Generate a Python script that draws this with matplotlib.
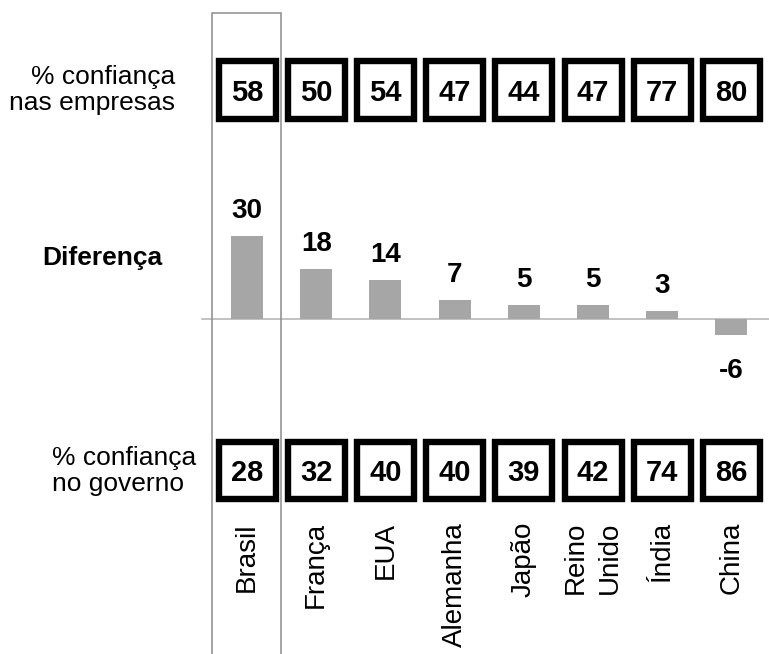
import matplotlib.pyplot as plt
from matplotlib.patches import Rectangle

plt.rcParams['font.family'] = ['Liberation Sans', 'DejaVu Sans']

# Data
paises = ["Brasil", "França", "EUA", "Alemanha", "Japão", "Reino\nUnido", "Índia", "China"]
conf_empresas = [58, 50, 54, 47, 44, 47, 77, 80]
conf_governo = [28, 32, 40, 40, 39, 42, 74, 86]
diferenca = [30, 18, 14, 7, 5, 5, 3, -6]

W, H = 769, 654
fig = plt.figure(figsize=(W / 100, H / 100), dpi=100)
ax = fig.add_axes([0, 0, 1, 1])
ax.axis('off')

# pixel layout of the columns
step = 69.2      # px between columns
x0 = 247         # px centre of first column
ppu = 2.75       # px per point of difference
base = H - 319   # baseline, px from bottom
ax.set_xlim(-x0 / step, (W - x0) / step)
ax.set_ylim(-base / ppu, (H - base) / ppu)
xt = ax.get_xaxis_transform()

pos = list(range(len(paises)))

# difference bars
ax.axhline(0, xmin=202 / W, xmax=1, color='#b8b8b8', lw=1.2, zorder=1)
ax.bar(pos, diferenca, width=0.46, color='#a6a6a6', zorder=2)
for i, v in zip(pos, diferenca):
    if v >= 0:
        ax.annotate(str(v), (i, v), xytext=(0, 13), textcoords='offset points',
                    ha='center', va='baseline', fontsize=20, fontweight='bold')
    else:
        ax.annotate(str(v), (i, v), xytext=(0, -16), textcoords='offset points',
                    ha='center', va='top', fontsize=20, fontweight='bold')

# highlight Brasil column
ax.add_patch(Rectangle((-0.505, -0.1), 0.995, 1.08, transform=xt, fill=False,
                       ec='#8c8c8c', lw=1.1, clip_on=False, zorder=3))

# boxes with the confidence values
bw = 57 / step
bh = 57 / H
def boxes(vals, yc):
    for i, v in zip(pos, vals):
        ax.add_patch(Rectangle((i - bw / 2, yc - bh / 2), bw, bh, transform=xt,
                               fill=False, ec='black', lw=4.6, zorder=4))
        ax.annotate(str(v), (i, yc), xycoords=xt, xytext=(0, -7.7),
                    textcoords='offset points', ha='center', va='baseline',
                    fontsize=21, fontweight='bold')

boxes(conf_empresas, 1 - 90 / H)
boxes(conf_governo, 1 - 470 / H)

# country names
for i, p in zip(pos, paises):
    ax.text(i, 1 - 522 / H, p, transform=xt, rotation=90, ha='center', va='top',
            fontsize=20, linespacing=1.4)

# row labels on the left
fig.text(175 / W, 1 - 90 / H, "% confiança\nnas empresas", ha='right', va='center',
         fontsize=19, linespacing=1.15, multialignment='right')
fig.text(102 / W, 1 - 258 / H, "Diferença", ha='center', va='center',
         fontsize=19, fontweight='bold')
fig.text(52 / W, 1 - 471 / H, "% confiança\nno governo", ha='left', va='center',
         fontsize=19, linespacing=1.15, multialignment='left')

fig.savefig('out.png', dpi=100)
